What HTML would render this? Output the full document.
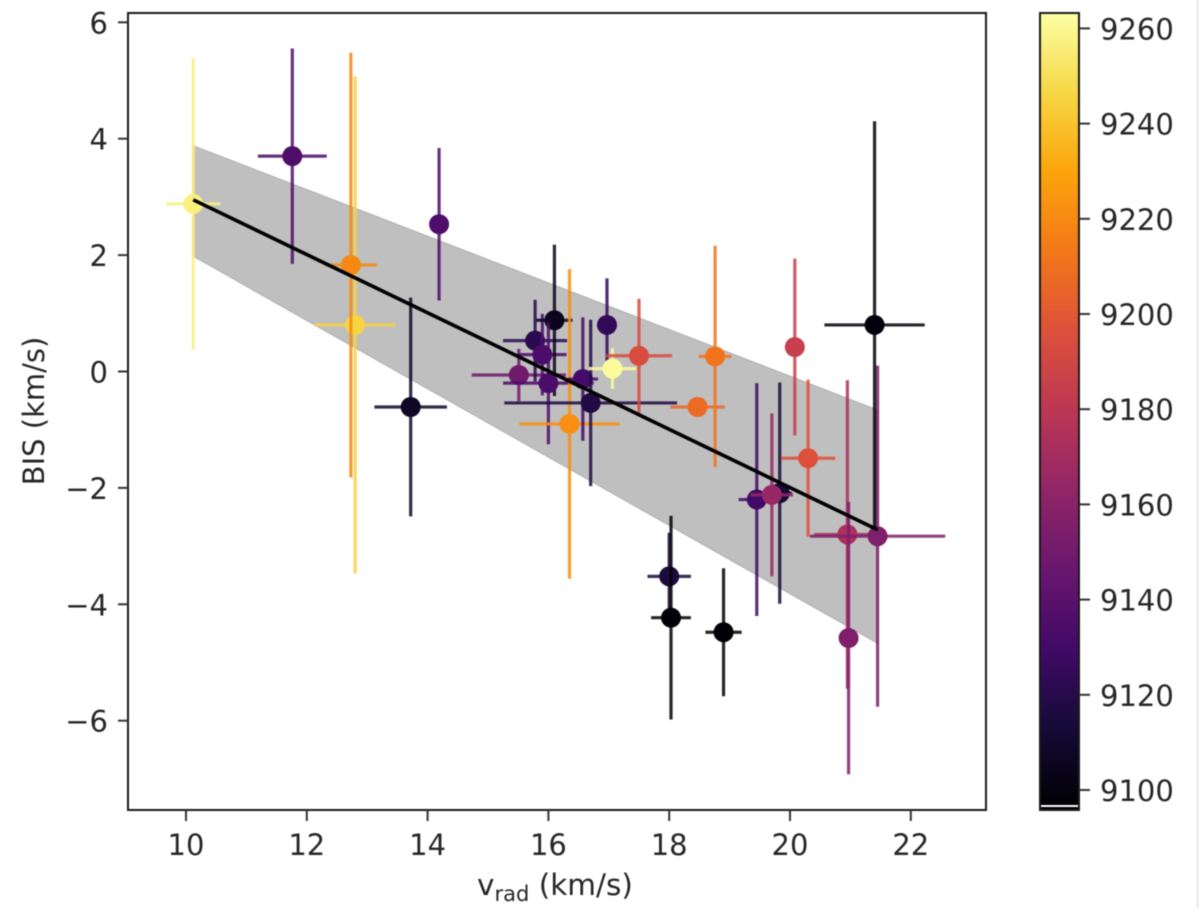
<!DOCTYPE html>
<html lang="en">
<head>
<meta charset="utf-8">
<title>BIS vs radial velocity</title>
<style>
html,body{margin:0;padding:0;background:#fff;width:1200px;height:908px;overflow:hidden}
svg{display:block;filter:blur(0.65px)}
text{font-family:"DejaVu Sans","Liberation Sans",sans-serif;fill:#262626}
</style>
</head>
<body>
<svg id="fig" xmlns="http://www.w3.org/2000/svg" width="1200" height="908" viewBox="0 0 1200 908"></svg>
<script>
// ---- data ----
const vrad    = [10.12,11.76,12.80,12.73,13.72,14.19,15.51,15.78,15.90,16.10,16.00,16.35,16.57,16.70,16.97,17.06,17.50,18.47,18.76,18.00,18.03,18.90,19.45,19.83,19.70,20.08,20.30,20.95,21.45,20.97,21.40];
const vradErr = [0.45,0.57,0.67,0.43,0.60,0.10,0.78,0.53,0.40,0.30,0.75,0.83,0.25,1.43,0.10,0.39,0.55,0.45,0.27,0.36,0.33,0.30,0.30,0.20,0.35,0.10,0.45,0.55,1.12,0.10,0.83];
const bis     = [2.88,3.70,0.80,1.83,-0.61,2.53,-0.06,0.53,0.29,0.88,-0.20,-0.90,-0.13,-0.54,0.80,0.05,0.27,-0.61,0.26,-3.52,-4.23,-4.48,-2.20,-2.09,-2.12,0.42,-1.49,-2.80,-2.83,-4.58,0.80];
const bisErr  = [2.50,1.85,4.27,3.65,1.88,1.31,0.45,0.70,0.70,1.30,1.05,2.66,1.06,1.43,0.80,0.35,0.98,0.15,1.90,0.75,1.75,1.10,2.00,1.90,1.40,1.52,1.35,2.65,2.93,2.34,3.50];
const epoch   = [9257,9136,9246,9220,9108,9136,9150,9122,9135,9105,9135,9222,9132,9118,9125,9262,9194,9208,9212,9116,9099,9098,9130,9114,9166,9186,9197,9174,9156,9156,9100];
const fitX    = [10.12,21.45];
const fitY    = [2.95,-2.72];
const bandUp  = [3.88,-0.66];
const bandLo  = [1.98,-4.67];
const xTicks  = [10,12,14,16,18,20,22];
const yTicks  = [-6,-4,-2,0,2,4,6];
const cTicks  = [9100,9120,9140,9160,9180,9200,9220,9240,9260];
const infernoStops = ["#000004","#160b39","#420a68","#6a176e","#932667","#bc3754","#dd513a","#f37819","#fca50a","#f6d746","#fcffa4"];

// ---- axis functions ----
const AX = {l:128,r:986,t:13,b:810};
const CB = {l:1040,r:1079,t:13,b:810};
const vMin = 9097.5, vMax = 9263.5;
const xScale = v => 186 + (v-10)*60.4;
const yScale = v => 371.5 - v*58.2;
const cScale = v => 790 - (v-9100)*4.76;
function hexToRgb(h){return [1,3,5].map(i=>parseInt(h.substr(i,2),16));}
function inferno(v){
  const t = Math.max(0,Math.min(1,(v-vMin)/(vMax-vMin)))*(infernoStops.length-1);
  const i = Math.min(Math.floor(t),infernoStops.length-2), f = t-i;
  const a = hexToRgb(infernoStops[i]), b = hexToRgb(infernoStops[i+1]);
  return "rgb("+a.map((c,k)=>Math.round(c+(b[k]-c)*f)).join(",")+")";
}
const svg = document.getElementById('fig');
const NS = 'http://www.w3.org/2000/svg';
function mk(tag,attrs,parent,txt){
  const e = document.createElementNS(NS,tag);
  for(const k in attrs) e.setAttribute(k,attrs[k]);
  if(txt!==undefined) e.textContent = txt;
  (parent||svg).appendChild(e);
  return e;
}
const fmtTick = v => (v<0?"\u2212":"")+Math.abs(v);

// page edge
const edge = mk('line',{x1:1197.5,x2:1197.5,y1:0,y2:908,stroke:'#e2e2e2','stroke-width':1.5});



// confidence band
const band = mk('polygon',{points:
  xScale(fitX[0])+','+yScale(bandUp[0])+' '+xScale(fitX[1])+','+yScale(bandUp[1])+' '+
  xScale(fitX[1])+','+yScale(bandLo[1])+' '+xScale(fitX[0])+','+yScale(bandLo[0]),
  fill:'#bfbfbf',stroke:'#b0b0b0','stroke-width':1});



// observations
vrad.forEach((x,i)=>{
  const col = inferno(epoch[i]);
  const g = mk('g',{});
  
  
  const xe = mk('line',{x1:xScale(x-vradErr[i]),x2:xScale(x+vradErr[i]),y1:yScale(bis[i]),y2:yScale(bis[i]),stroke:col,'stroke-width':3.2,opacity:0.85},g);
  
  
  const ye = mk('line',{x1:xScale(x),x2:xScale(x),y1:yScale(bis[i]+bisErr[i]),y2:yScale(bis[i]-bisErr[i]),stroke:col,'stroke-width':3.2,opacity:0.85},g);
  
  
  const dot = mk('circle',{cx:xScale(x),cy:yScale(bis[i]),r:10,fill:col},g);
  
  
});

// fit line
const fit = mk('line',{x1:xScale(fitX[0]),y1:yScale(fitY[0]),x2:xScale(fitX[1]),y2:yScale(fitY[1]),stroke:'#000','stroke-width':3.6});



// main axes frame
const frame = mk('rect',{x:AX.l,y:AX.t,width:AX.r-AX.l,height:AX.b-AX.t,fill:'none',stroke:'#1a1a1a','stroke-width':2});



// x ticks
xTicks.forEach(v=>{
  const t = mk('line',{x1:xScale(v),x2:xScale(v),y1:AX.b,y2:AX.b+11,stroke:'#333','stroke-width':2});
  
  
  const l = mk('text',{x:xScale(v),y:855,'text-anchor':'middle','font-size':29},svg,fmtTick(v));
  
  
});
// y ticks
yTicks.forEach(v=>{
  const t = mk('line',{x1:AX.l-10,x2:AX.l,y1:yScale(v),y2:yScale(v),stroke:'#333','stroke-width':2});
  
  
  const l = mk('text',{x:AX.l-20,y:yScale(v)+11,'text-anchor':'end','font-size':29},svg,fmtTick(v));
  
  
});

// axis titles
const xTitle = mk('text',{x:477,y:895,'font-size':29.5});


mk('tspan',{},xTitle,'v');
mk('tspan',{dy:6,'font-size':21},xTitle,'rad');
mk('tspan',{dy:-6},xTitle,' (km/s)');
const yTitle = mk('text',{x:0,y:0,'text-anchor':'middle','font-size':29,transform:'translate(44,411) rotate(-90)'},svg,'BIS (km/s)');



// colorbar
const defs = mk('defs',{});
const grad = mk('linearGradient',{id:'cbGrad',x1:0,y1:1,x2:0,y2:0},defs);
infernoStops.forEach((c,i)=>mk('stop',{offset:i/(infernoStops.length-1),'stop-color':c},grad));
const cbar = mk('rect',{x:CB.l,y:CB.t,width:CB.r-CB.l,height:CB.b-5-CB.t,fill:'url(#cbGrad)'});


const cbBase = mk('rect',{x:CB.l,y:CB.b-3,width:CB.r-CB.l,height:3,fill:'#000'});


const cbGap = mk('rect',{x:CB.l+1,y:CB.b-5,width:CB.r-CB.l-2,height:2,fill:'#fff'});


const cbFrame = mk('rect',{x:CB.l,y:CB.t,width:CB.r-CB.l,height:CB.b-CB.t,fill:'none',stroke:'#1a1a1a','stroke-width':2});


cTicks.forEach(v=>{
  const t = mk('line',{x1:CB.r,x2:CB.r+11,y1:cScale(v),y2:cScale(v),stroke:'#333','stroke-width':2});
  
  
  const l = mk('text',{x:CB.r+21,y:cScale(v)+11,'font-size':29},svg,String(v));
  
  
});
</script>
</body>
</html>
